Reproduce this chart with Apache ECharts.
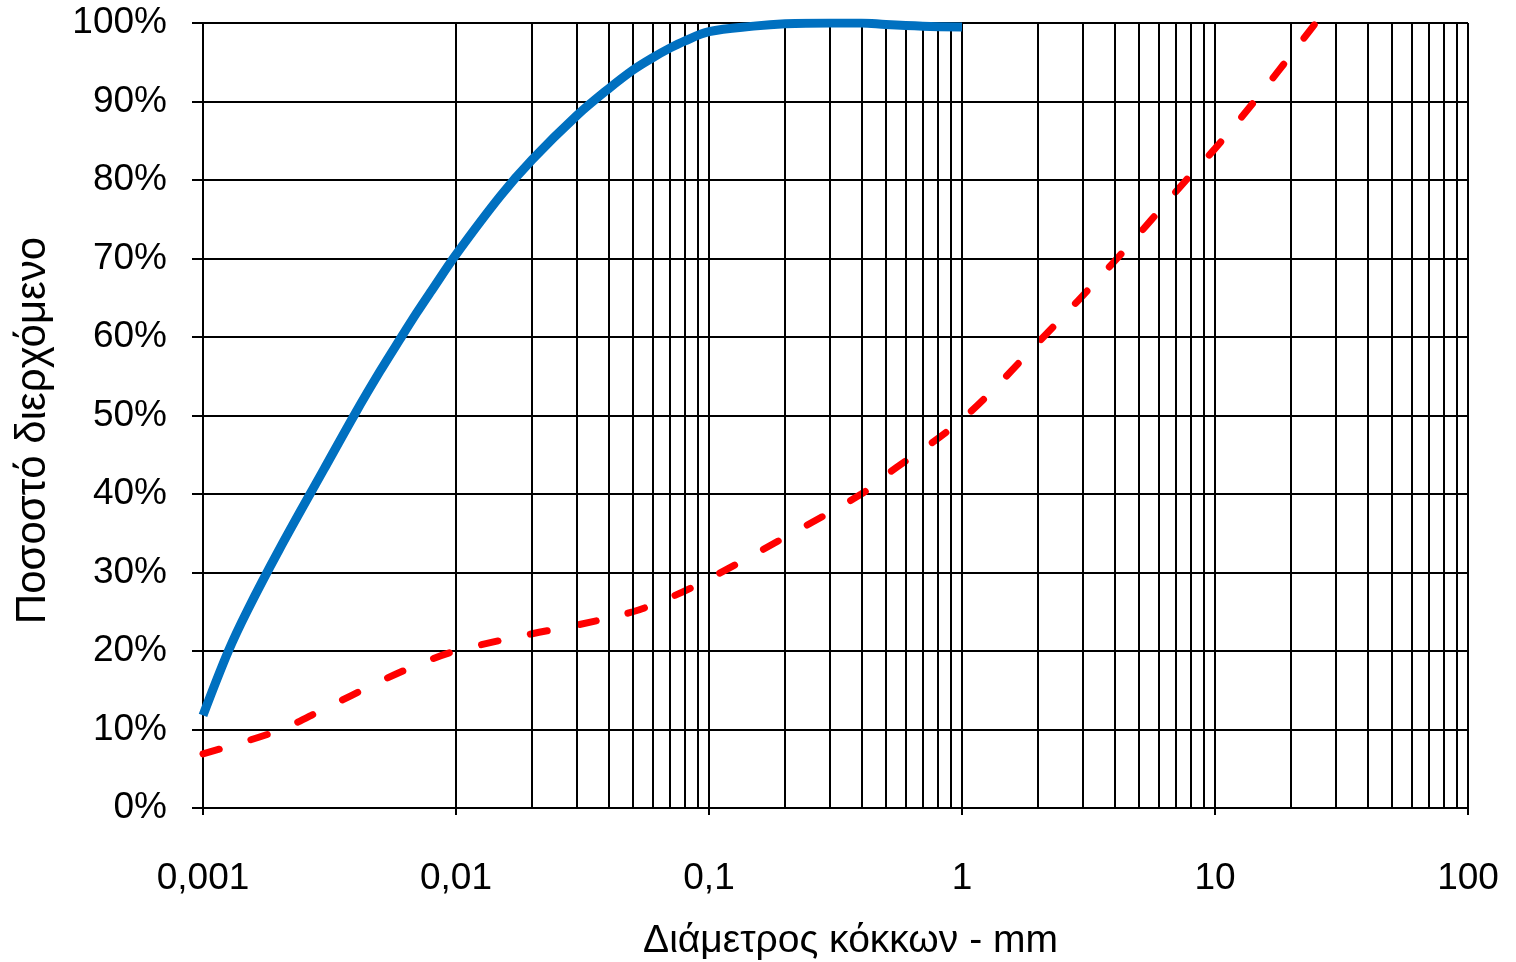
<!DOCTYPE html>
<html>
<head>
<meta charset="utf-8">
<script src="https://cdn.jsdelivr.net/npm/echarts@6/dist/echarts.min.js"></script>
<style>
    html, body { margin: 0; padding: 0; background: #fff; }
    #chart { width: 1516px; height: 962px; }
</style>
</head>
<body>
<div id="chart"></div>
<script>
// diameters (mm) and percent passing
var fineDiam = [0.001, 0.00126, 0.0015, 0.002, 0.003, 0.004, 0.005, 0.006, 0.007, 0.008, 0.01, 0.015, 0.02, 0.03, 0.04, 0.05, 0.06, 0.07, 0.08, 0.1, 0.15, 0.2, 0.3, 0.4, 0.5, 0.7, 1];
var finePass = [11.8, 20, 25.2, 32.9, 43.1, 50.3, 55.6, 59.7, 63.1, 65.9, 70.5, 78, 82.6, 88.2, 91.6, 94.0, 95.6, 96.8, 97.7, 98.9, 99.6, 99.9, 100, 100, 99.8, 99.6, 99.5];

var coarseDiam = [0.001, 0.002, 0.003, 0.005, 0.007, 0.01, 0.02, 0.03, 0.05, 0.07, 0.1, 0.2, 0.4, 0.5, 1, 2, 4.1, 7.7, 10, 14.3, 25];
var coarsePass = [6.9, 9.9, 12.6, 16.1, 18.2, 20, 22.2, 23.3, 25, 26.8, 29.2, 34.5, 40, 42.4, 49.5, 59.3, 70, 80, 84, 90, 100];

var xTickLabels = ['0,001', '0,01', '0,1', '1', '10', '100'];
var minorSteps = [2, 3, 4, 5, 6, 7, 8, 9];

var FONT = '"Liberation Sans", Arial, sans-serif';

function pairs(xs, ys) {
    return xs.map(function (x, i) { return [x, ys[i]]; });
}

// vertical grid lines at 2..9 of every decade
var minorLines = [];
for (var p = -3; p < 2; p++) {
    minorSteps.forEach(function (m) {
        minorLines.push({ xAxis: m * Math.pow(10, p) });
    });
}

var chart = echarts.init(document.getElementById('chart'));
chart.setOption({
    animation: false,
    grid: {
        left: 203,
        right: 48,
        top: 23,
        bottom: 154,
        outerBoundsMode: 'none'
    },
    xAxis: {
        type: 'log',
        logBase: 10,
        min: 0.001,
        max: 100,
        name: 'Διάμετρος κόκκων - mm',
        nameLocation: 'middle',
        nameGap: 114,
        nameTextStyle: {
            color: '#000',
            fontSize: 39,
            fontFamily: FONT,
            padding: [0, 0, 0, 30]
        },
        axisLine: { lineStyle: { color: '#000', width: 2 } },
        axisTick: { show: true, length: 7, lineStyle: { color: '#000', width: 2 } },
        axisLabel: {
            color: '#000',
            fontSize: 37,
            fontFamily: FONT,
            margin: 52,
            formatter: function (v) {
                var i = Math.round(Math.log10(v)) + 3;
                return xTickLabels[i] || '';
            }
        },
        splitLine: { show: true, lineStyle: { color: '#000', width: 2 } }
    },
    yAxis: {
        type: 'value',
        min: 0,
        max: 100,
        interval: 10,
        name: 'Ποσοστό διερχόμενο',
        nameLocation: 'middle',
        nameGap: 149,
        nameTextStyle: {
            color: '#000',
            fontSize: 42,
            fontFamily: FONT,
            padding: [0, 30, 0, 0]
        },
        axisLine: { show: true, lineStyle: { color: '#000', width: 2 } },
        axisTick: { show: true, length: 11, lineStyle: { color: '#000', width: 2 } },
        axisLabel: {
            color: '#000',
            fontSize: 37,
            fontFamily: FONT,
            margin: 36,
            formatter: '{value}%'
        },
        splitLine: { show: true, lineStyle: { color: '#000', width: 2 } }
    },
    series: [
        {
            type: 'line',
            data: [],
            silent: true,
            markLine: {
                silent: true,
                symbol: ['none', 'none'],
                label: { show: false },
                lineStyle: { type: 'solid', color: '#000', width: 2 },
                data: minorLines
            },
            z: 1
        },
        {
            type: 'line',
            data: pairs(fineDiam, finePass),
            showSymbol: false,
            smooth: 0.35,
            lineStyle: { color: '#0070C0', width: 9 },
            z: 5
        },
        {
            type: 'line',
            data: pairs(coarseDiam, coarsePass),
            showSymbol: false,
            smooth: 0.35,
            lineStyle: { color: '#FF0000', width: 7, type: [17, 33], cap: 'round' },
            z: 4
        }
    ]
});
</script>
</body>
</html>
